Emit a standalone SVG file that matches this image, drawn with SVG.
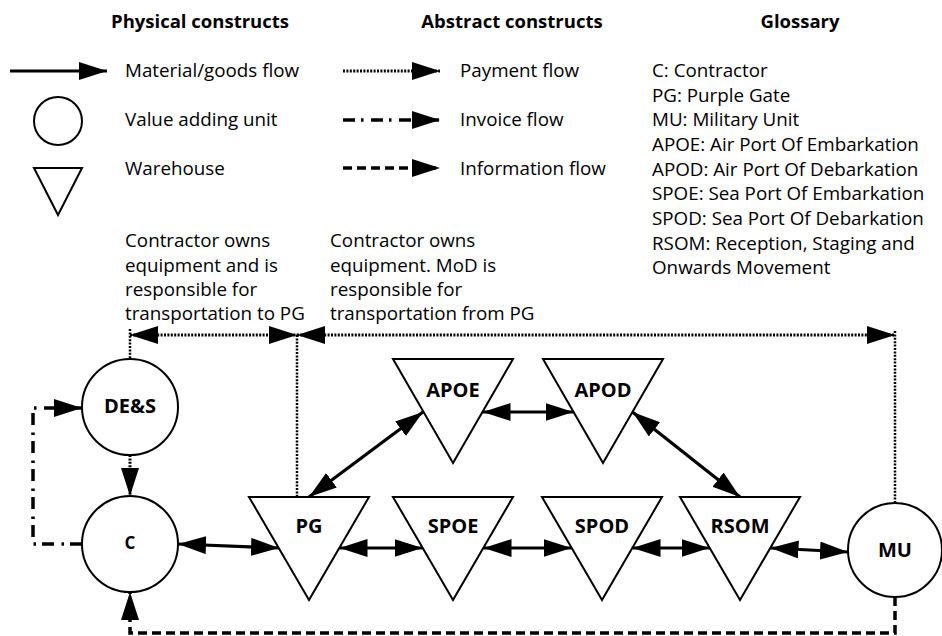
<svg xmlns="http://www.w3.org/2000/svg" width="942" height="636" viewBox="0 0 942 636">
<style>
text{font-family:"Open Sans","Noto Sans","Liberation Sans",sans-serif;fill:#000}
.h{font-weight:bold;font-size:18.5px;text-anchor:middle}
.t{font-size:18.8px}
.lbl{font-weight:bold;font-size:20px;text-anchor:middle}
.shape{fill:#fff;stroke:#000;stroke-width:2}
.mat{fill:none;stroke:#000;stroke-width:3.2}
.pay{fill:none;stroke:#000;stroke-width:3;stroke-dasharray:2 1.4}
.payv{fill:none;stroke:#000;stroke-width:2.5;stroke-dasharray:2 1.4}
.inv{fill:none;stroke:#000;stroke-width:3.5;stroke-dasharray:12 6 2.5 7.5}
.info{fill:none;stroke:#000;stroke-width:3.5;stroke-dasharray:9 5}
</style>
<defs>
<marker id="ah" markerUnits="userSpaceOnUse" markerWidth="29" markerHeight="19" refX="28" refY="9" orient="auto-start-reverse" viewBox="0 0 29 19">
<path d="M0,0 L28,9 L0,18 Z" fill="#000"/>
</marker>
</defs>

<g id="legend">
<text class="h" x="200" y="28">Physical constructs</text>
<text class="h" x="512" y="28">Abstract constructs</text>
<text class="h" x="800" y="28">Glossary</text>
<line class="mat" x1="10" y1="71" x2="107" y2="71" marker-end="url(#ah)"/>
<text class="t" x="125" y="77">Material/goods flow</text>
<circle class="shape" cx="58" cy="121" r="24"/>
<text class="t" x="125" y="126">Value adding unit</text>
<polygon class="shape" points="34,168 82,168 58,215"/>
<text class="t" x="125" y="175">Warehouse</text>
<line class="pay" x1="343" y1="71" x2="440" y2="71" marker-end="url(#ah)"/>
<text class="t" x="460" y="77">Payment flow</text>
<line class="inv" x1="343" y1="120" x2="440" y2="120" marker-end="url(#ah)"/>
<text class="t" x="460" y="126">Invoice flow</text>
<line class="info" x1="343" y1="168" x2="440" y2="168" marker-end="url(#ah)"/>
<text class="t" x="460" y="175">Information flow</text>
<text class="t" x="652" y="77">C: Contractor</text>
<text class="t" x="652" y="101.5">PG: Purple Gate</text>
<text class="t" x="652" y="126">MU: Military Unit</text>
<text class="t" x="652" y="151">APOE: Air Port Of Embarkation</text>
<text class="t" x="652" y="175.5">APOD: Air Port Of Debarkation</text>
<text class="t" x="652" y="200">SPOE: Sea Port Of Embarkation</text>
<text class="t" x="652" y="225">SPOD: Sea Port Of Debarkation</text>
<text class="t" x="652" y="249.5">RSOM: Reception, Staging and</text>
<text class="t" x="652" y="274">Onwards Movement</text>
</g>

<g id="notes">
<text class="t" x="125" y="247">Contractor owns</text>
<text class="t" x="125" y="271.5">equipment and is</text>
<text class="t" x="125" y="296">responsible for</text>
<text class="t" x="125" y="320">transportation to PG</text>
<text class="t" x="330" y="247">Contractor owns</text>
<text class="t" x="330" y="271.5">equipment. MoD is</text>
<text class="t" x="330" y="296">responsible for</text>
<text class="t" x="330" y="320">transportation from PG</text>
</g>

<g id="connectors">
<line class="mat" x1="178" y1="544" x2="279" y2="548" marker-start="url(#ah)" marker-end="url(#ah)"/>
<line class="mat" x1="339.5" y1="548" x2="422.5" y2="548" marker-start="url(#ah)" marker-end="url(#ah)"/>
<line class="mat" x1="483.5" y1="548" x2="571.5" y2="548" marker-start="url(#ah)" marker-end="url(#ah)"/>
<line class="mat" x1="632.5" y1="548" x2="709.5" y2="548" marker-start="url(#ah)" marker-end="url(#ah)"/>
<line class="mat" x1="770.5" y1="548" x2="848" y2="552" marker-start="url(#ah)" marker-end="url(#ah)"/>
<line class="mat" x1="482.5" y1="412" x2="573.5" y2="412" marker-start="url(#ah)" marker-end="url(#ah)"/>
<line class="mat" x1="309" y1="497" x2="423" y2="412" marker-start="url(#ah)" marker-end="url(#ah)"/>
<line class="mat" x1="632.5" y1="412" x2="740" y2="497" marker-start="url(#ah)" marker-end="url(#ah)"/>
<line class="pay" x1="130" y1="335" x2="297" y2="335" marker-start="url(#ah)" marker-end="url(#ah)"/>
<line class="pay" x1="297" y1="335" x2="895" y2="335" marker-start="url(#ah)" marker-end="url(#ah)"/>
<line class="payv" x1="130" y1="329" x2="130" y2="360"/>
<line class="payv" x1="297" y1="335" x2="297" y2="497"/>
<line class="payv" x1="895" y1="331" x2="895" y2="503"/>
<line class="pay" x1="130" y1="455" x2="130" y2="496" marker-end="url(#ah)"/>
<path class="inv" d="M82,544 H33 V408 H82" marker-end="url(#ah)"/>
<path class="info" d="M895,597 V633 H130 V592" marker-end="url(#ah)"/>
</g>

<g id="node-DES"><circle class="shape" cx="130" cy="407" r="48"/><text class="lbl" x="130" y="413">DE&amp;S</text></g>
<g id="node-C"><circle class="shape" cx="130" cy="544" r="48"/><text class="lbl" x="130" y="549" style="font-size:17px">C</text></g>
<g id="node-MU"><circle class="shape" cx="895" cy="550" r="47"/><text class="lbl" x="895" y="557">MU</text></g>
<g id="node-PG"><polygon class="shape" points="249,497 369,497 309,600"/><text class="lbl" x="309" y="533">PG</text></g>
<g id="node-SPOE"><polygon class="shape" points="393,497 513,497 453,600"/><text class="lbl" x="453" y="533">SPOE</text></g>
<g id="node-SPOD"><polygon class="shape" points="542,497 662,497 602,600"/><text class="lbl" x="602" y="533">SPOD</text></g>
<g id="node-RSOM"><polygon class="shape" points="680,497 800,497 740,600"/><text class="lbl" x="740" y="533">RSOM</text></g>
<g id="node-APOE"><polygon class="shape" points="393,359 513,359 453,463"/><text class="lbl" x="453" y="397">APOE</text></g>
<g id="node-APOD"><polygon class="shape" points="543,359 663,359 603,463"/><text class="lbl" x="603" y="397">APOD</text></g>
</svg>
